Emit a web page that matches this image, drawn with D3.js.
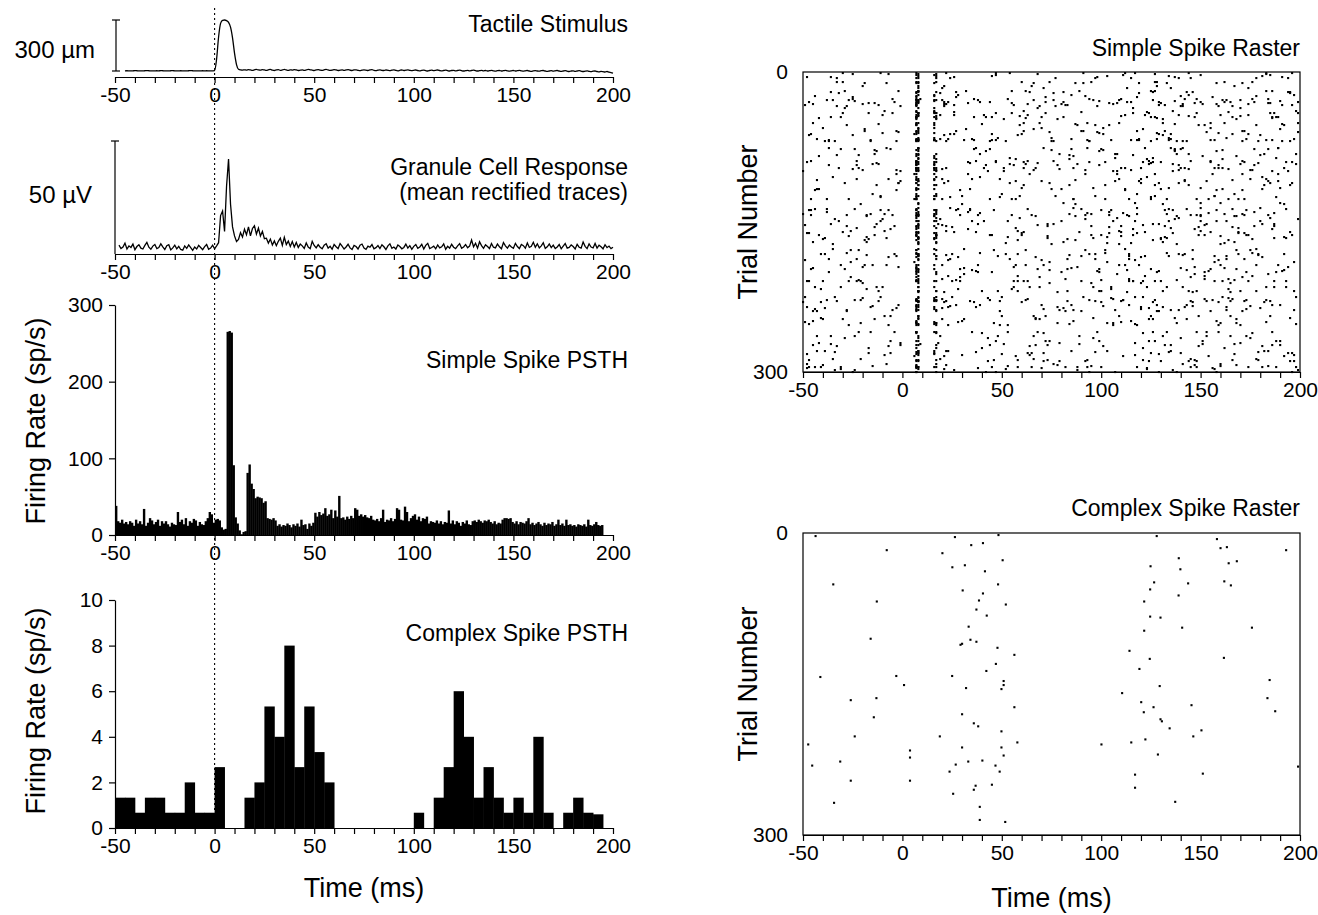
<!DOCTYPE html>
<html>
<head>
<meta charset="utf-8">
<title>Tactile stimulus, granule cell and Purkinje cell responses</title>
<script src="https://cdn.jsdelivr.net/npm/d3@7"></script>
<style>
  body { margin: 0; background: #fff; }
  svg text { font-family: "Liberation Sans", Arial, Helvetica, sans-serif; fill: #000; }
</style>
</head>
<body>
<div id="chart"></div>
<script>
// ---- data ----
var timeTickLabels = [-50, 0, 50, 100, 150, 200];
var simpleRateTicks = [0, 100, 200, 300];
var complexRateTicks = [0, 2, 4, 6, 8, 10];
var rasterTrialTicks = [0, 300];

// tactile stimulus trace, 1 ms samples from -45 ms (um)
var tactileStart = -45;
var tactileUm = [
  1,1.5,1,0.5,1,2,1.5,1,0.5,1,
  1.5,2,1.5,1,0.5,1,1.5,1,2,1.5,
  1,0.5,1,1.5,2,1,0.5,1,1.5,1,
  0.5,1,1.5,2,1.5,1,1,0.5,1,1.5,
  1,1.5,1,0.5,1,2,70,200,280,298,
  300,296,286,258,195,105,38,10,6,5,
  7,5,8,6,4,7,9,6,5,8,
  6,4,7,9,5,3,6,8,4,6,
  9,6,4,7,5,8,6,3,5,7,
  4,6,9,7,5,3,6,8,5,4,
  7,9,6,4,5,8,6,3,5,7,
  4,6,8,5,3,6,7,4,2,5,
  7,5,3,6,8,4,2,5,7,4,
  3,6,4,2,5,7,3,1,4,6,
  3,5,7,4,2,4,6,3,1,4,
  5,2,0,3,5,2,4,6,3,1,
  3,5,2,0,3,4,1,3,5,2,
  0,2,4,1,3,5,2,0,2,4,
  1,3,0,2,4,1,-1,2,3,0,
  2,4,1,-1,1,3,0,2,4,1,
  -1,1,3,0,-2,1,2,0,-1,2,
  3,0,-2,0,2,-1,1,3,0,-2,
  0,2,-1,-3,0,1,-2,0,2,-1,
  -3,-1,1,-2,-4,-1,0,-3,-5,-2,
  -4,-6,-3,-7,-9,-12
];

// granule cell mean rectified trace, 1 ms samples from -48 ms (uV)
var granuleStart = -48;
var granuleUv = [
  3.9,2.4,3.1,4.8,2.2,3.6,2.9,4.4,1.9,3.3,
  4.1,2.6,2.2,3.8,5.1,3.0,2.1,3.5,4.2,2.4,
  2.9,4.5,3.2,2.0,3.7,4.1,1.8,2.7,3.9,2.3,
  3.4,2.0,1.7,3.6,2.5,4.0,2.8,1.6,3.1,2.2,
  3.8,2.9,1.9,3.3,4.2,2.1,2.6,3.9,2.3,3.6,
  5.0,17,19,10,30,42,22,12,8,5.5,
  6.5,9.5,7.5,11,8.5,12,8,11.3,12.5,8.8,
  11.5,8,10,6.8,7,4.8,6.6,4,5.8,3.7,
  5.6,7,3.8,7.4,4.2,5.7,3.3,5.5,3.1,5.1,
  2.9,4.4,3.6,2.5,4.9,3.1,2.4,5.6,3.8,2.7,
  4.1,3.0,2.3,3.9,4.5,2.6,3.4,2.1,4.2,3.2,
  2.4,4.6,3.5,2.2,3.1,4.3,2.7,2.0,3.8,3.3,
  2.2,3.9,4.4,2.6,2.1,3.5,3.0,4.2,2.3,2.8,
  3.7,2.4,4.1,3.2,2.0,3.6,4.5,2.5,3.1,2.2,
  4.0,3.3,2.3,2.9,4.4,2.6,3.7,2.1,3.4,4.2,
  2.5,3.1,4.3,2.2,3.8,4.7,2.4,2.9,3.5,2.3,
  4.0,2.7,3.2,4.5,2.1,3.4,2.6,4.3,3.0,2.4,
  3.6,4.6,2.5,3.1,4.2,2.8,3.5,6.2,3.2,4.8,
  2.6,5.4,3.7,2.5,4.1,3.3,2.4,4.6,3.0,2.7,
  4.4,3.2,2.3,5.1,3.6,2.6,4.0,3.1,2.5,4.7,
  3.3,2.4,4.2,3.7,2.6,4.9,2.9,3.4,5.2,3.0,
  4.5,2.7,3.6,5.0,2.5,3.2,4.4,2.8,3.9,2.4,
  3.1,4.2,2.3,3.5,4.6,2.6,2.9,4.0,3.3,2.2,
  4.3,3.0,2.6,5.3,3.4,2.4,4.5,3.1,2.7,4.7,
  2.6,3.9,3.2,2.3,4.1,2.8,3.5,2.4,3.0
];

// simple spike PSTH, 1 ms bins starting at -50 ms (sp/s)
var simplePsthStart = -50;
var simplePsthBin = 1;
var simplePsthRate = [
  38,18,16,20,15,17,14,18,16,12,
  20,15,18,14,34,12,16,22,19,14,
  17,20,12,18,15,18,14,11,16,14,
  13,30,17,20,14,22,12,18,16,21,
  19,12,17,14,13,18,22,30,27,16,
  20,21,19,10,7,8,265,266,264,91,
  23,15,6,1,4,5,81,92,67,60,
  48,50,49,48,42,44,22,21,20,22,
  19,12,14,11,13,12,15,13,10,14,
  12,15,11,20,13,14,8,15,12,16,
  29,24,30,26,28,35,25,27,33,22,
  32,24,51,22,23,20,24,21,25,22,
  35,33,25,27,24,26,23,22,25,20,
  19,21,18,22,33,17,20,19,22,18,
  21,35,33,20,19,37,30,18,22,25,
  27,20,24,18,22,21,24,15,18,17,
  16,19,15,18,14,17,16,32,15,19,
  14,18,16,12,17,15,19,14,13,18,
  19,17,20,18,16,19,18,20,17,15,
  18,14,16,15,20,22,22,21,22,17,
  15,18,14,17,16,15,18,22,14,16,
  13,15,17,14,12,16,13,15,14,17,
  12,14,20,13,15,12,20,13,14,12,
  13,11,14,13,12,14,11,20,13,12,
  14,17,13,12,13
];

// complex spike PSTH, 5 ms bins starting at -50 ms (sp/s)
var complexPsthStart = -50;
var complexPsthBin = 5;
var complexPsthRate = [
  1.33,1.33,0.67,1.33,1.33,0.67,0.67,2.0,0.67,0.67,
  2.67,0,0,1.33,2.0,5.33,4.0,8.0,2.67,5.33,
  3.33,2.0,0,0,0,0,0,0,0,0,
  0.67,0,1.33,2.67,6.0,4.0,1.33,2.67,1.33,0.67,
  1.33,0.67,4.0,0.67,0,0.67,1.33,0.67,0.6
];

// simple spike raster: spike times (ms) of each recorded sweep
var simpleRasterSweeps = [
[-44,-3,7,29,112,158,171],[-17,8,63,71,140,196],[-38,7,17,94,127,183],[-9,-26,22,58,109,150],[7,45,81,166,188,-31],
[-48,8,16,37,120,131],[-2,7,74,98,153,199],[-35,-21,19,66,145,178],[8,17,52,103,115,162],[-12,7,40,87,137,191],
[-46,6,24,60,129,174],[-29,8,16,83,99,155],[-6,7,33,116,147,186],[-40,-14,20,69,124,168],[7,56,78,139,159,-23],
[-50,8,17,43,106,194],[-19,7,27,91,118,172],[-33,-7,64,101,149,181],[8,16,48,75,134,163],[-43,7,23,85,128,197],
[-25,9,36,110,142,176],[-11,7,17,59,97,157],[-37,8,71,122,135,189],[-4,-47,21,44,113,165],[7,16,88,104,152,192],
[-30,8,31,67,126,143],[-15,7,53,95,160,184],[-42,-1,18,79,117,170],[8,17,39,108,138,198],[-22,7,62,92,146,175],
[-49,-34,25,50,121,161],[-8,8,16,73,130,187],[7,44,86,102,154,169],[-27,6,20,57,114,148],[-39,8,17,96,133,193],
[-13,7,34,68,125,179],[-45,-20,22,80,141,158],[7,16,47,111,150,185],[-3,8,61,90,132,171],[-32,7,19,76,119,195],
[-18,-41,28,55,105,164],[8,17,84,127,144,182],[-48,7,38,70,123,156],[-24,8,16,99,137,190],[-10,7,26,63,112,174],
[-36,9,51,89,151,167],[7,17,42,107,129,196],[-1,-28,21,77,140,159],[-44,8,65,93,118,181],[-16,7,16,35,126,153],
[-31,8,58,82,145,188],[7,23,72,115,162,177],[-47,-7,17,46,100,136],[-21,8,30,87,131,192],[-38,7,16,66,109,170],
[-5,7,53,94,148,184],[8,19,41,122,139,160],[-26,6,74,103,157,197],[-42,-14,17,60,116,173],[7,27,85,128,143,186],
[-12,8,16,49,110,165],[-34,7,37,97,134,179],[-49,8,20,68,121,152],[-20,-2,7,56,88,147,194],[7,17,78,106,138,168],
[-29,8,32,62,125,183],[-8,7,16,91,119,158],[-45,8,44,73,135,190],[-15,7,24,101,146,175],[-37,-23,17,54,114,163],
[8,39,81,129,150,199],[-3,7,16,64,108,171],[-28,8,22,95,132,187],[-46,7,47,76,124,155],[-11,8,17,35,117,180],
[-33,7,69,98,141,166],[6,21,57,111,154,192],[-40,-17,8,16,83,130,176],[-23,7,29,90,127,161],[-6,8,50,72,149,185],
[-48,7,17,104,136,169],[-30,8,26,61,122,195],[7,16,45,93,115,157],[-14,7,79,107,144,182],[-43,-36,19,66,131,173],
[8,17,38,99,152,188],[-19,7,58,87,126,164],[-35,8,16,31,112,178],[-2,7,74,120,139,196],[-27,8,23,53,106,159],
[-50,-9,17,84,133,171],[7,42,70,125,147,186],[-16,8,16,95,118,162],[-38,7,28,63,143,193],[-7,8,20,49,109,175],
[-45,7,17,82,129,155],[-24,-31,36,100,137,184],[8,16,67,114,150,167],[-12,7,54,88,124,198],[-39,8,22,75,141,179],
[-21,7,17,46,103,160],[6,33,92,127,156,189],[-47,8,16,60,118,172],[-5,-28,7,79,135,163],[-33,8,24,97,145,194],
[7,17,40,71,121,176],[-17,8,55,108,130,185],[-42,7,16,86,151,168],[-9,8,30,64,117,197],[-25,7,47,94,138,158],
[-36,-13,18,73,126,181],[8,17,59,110,144,170],[-49,7,26,83,132,191],[-20,8,16,43,105,164],[-4,7,68,98,148,186],
[-31,8,21,52,123,157],[7,17,77,115,139,178],[-44,-24,34,90,134,166],[-13,8,16,61,102,195],[-37,7,45,80,128,173],
[8,23,70,119,153,184],[-27,7,17,38,96,161],[-1,8,57,107,142,189],[-46,7,16,86,125,172],[-18,8,29,65,113,150],
[-34,-10,19,92,137,199],[7,17,51,78,131,168],[-41,8,36,100,146,182],[-22,7,16,67,120,159],[-6,8,44,85,140,177],
[-48,7,25,58,116,193],[-30,8,17,74,127,162],[7,39,93,111,154,187],[-15,8,16,62,136,170],[-39,-3,20,81,124,180],
[8,17,48,99,148,197],[-25,7,27,72,118,156],[-10,8,56,105,133,183],[-43,7,16,87,142,166],[-19,8,32,66,121,190],
[7,17,45,95,152,174],[-35,8,75,109,138,160],[-2,-29,7,21,54,129,185],[-47,8,16,84,117,198],[-23,7,37,63,145,171],
[8,17,90,114,134,163],[-11,7,24,49,125,188],[-40,8,16,70,101,155],[-28,7,59,97,149,178],[7,22,41,112,140,192],
[-45,-18,8,17,81,131,167],[-7,7,28,67,120,181],[-32,8,16,53,106,158],[-16,7,76,94,143,195],[8,19,35,119,135,173],
[-42,7,17,62,128,186],[-24,8,48,89,153,165],[-4,7,16,73,110,177],[-36,-48,26,98,137,191],[8,17,57,84,123,161],
[-14,7,33,104,147,184],[-29,8,16,68,116,170],[7,43,79,130,144,197],[-50,8,21,60,126,159],[-20,7,17,92,139,176],
[-8,8,38,71,112,189],[-38,7,16,55,133,164],[8,24,86,118,150,180],[-26,7,17,46,102,168],[-44,-13,64,96,141,193],
[8,16,30,77,127,157],[-1,7,51,108,136,186],[-33,8,22,83,145,172],[-17,7,17,40,121,162],[7,69,93,131,155,199],
[-41,8,16,58,114,179],[-22,7,27,100,138,167],[-6,8,47,74,124,190],[-47,7,17,88,148,174],[-31,-19,20,62,119,160],
[8,16,36,105,134,183],[-12,7,56,82,129,196],[-39,8,25,94,142,169],[-24,7,17,44,111,156],[7,72,99,127,151,188],
[-3,8,16,66,115,175],[-45,7,31,85,140,162],[-18,8,53,103,132,192],[-35,7,17,39,123,181],[8,21,78,113,146,165],
[-9,7,16,61,136,198],[-28,-43,49,90,128,171],[7,17,34,97,153,185],[-49,8,23,70,117,159],[-15,7,16,57,109,178],
[-36,8,81,126,143,194],[7,26,45,101,135,166],[-21,8,17,63,121,187],[-5,7,38,92,148,172],[-42,8,16,75,130,161],
[-30,-11,22,54,112,183],[8,17,86,107,139,197],[-46,7,29,68,125,168],[-16,8,16,47,118,155],[7,60,96,134,150,190],
[-38,8,17,33,104,177],[-25,7,20,79,144,164],[-2,8,55,89,127,186],[-44,7,16,71,120,173],[-13,8,42,99,137,158],
[7,17,27,64,146,195],[-33,-22,8,84,116,180],[-48,7,16,50,129,167],[-8,8,37,93,141,189],[-27,7,17,73,110,160],
[8,23,58,122,152,176],[-41,7,16,45,100,198],[-19,8,66,87,133,171],[7,17,31,108,147,184],[-35,8,20,76,126,163],
[-4,7,52,97,139,192],[-47,-27,16,61,114,157],[8,17,40,83,131,178],[-14,7,25,104,149,166],[-31,8,16,69,123,187],
[7,47,91,117,144,196],[-23,8,17,57,135,169],[-43,7,34,80,112,181],[-10,8,16,99,128,159],[7,21,63,106,151,174],
[-37,-3,17,44,138,191],[-20,8,74,95,120,165],[-49,7,16,28,110,183],[8,17,51,86,142,157],[-28,7,39,102,133,176],
[-6,8,16,65,125,194],[-40,7,22,78,147,168],[-17,8,17,55,116,185],[7,33,94,130,155,172],[-45,8,16,61,109,162],
[-24,-34,26,88,136,199],[7,17,46,73,121,179],[-12,8,58,100,144,170],[-36,7,16,36,127,189],[8,20,82,114,152,164],
[-1,7,17,67,132,186],[-29,8,43,96,140,175],[-46,7,16,27,105,158],[8,71,92,124,148,195],[-15,7,17,50,118,167],
[-39,8,23,85,135,182],[-21,7,16,62,111,173],[7,37,98,129,154,191],[-48,-8,17,76,141,160],[8,16,54,107,126,188],
[-26,7,29,69,145,171],[-11,8,17,91,117,198],[7,41,80,134,150,163],[-43,8,16,22,103,184],[-33,7,60,95,128,176],
[-3,8,17,48,122,157],[8,35,74,113,143,192],[-18,7,16,87,138,168],[-47,-25,21,58,131,180],[7,17,44,100,149,196],
[-9,8,66,109,125,165],[-37,7,16,31,119,186],[8,24,83,97,146,172],[-22,7,17,53,133,159],[-2,8,39,70,114,190],
[-44,7,16,92,140,178],[7,20,63,106,152,166],[-30,8,17,47,124,187],[-14,7,75,101,137,161],[8,16,28,85,144,197],
[-40,7,56,116,130,174],[-25,-7,8,17,68,127,183],[7,37,89,110,155,169],[-48,8,16,61,121,193],[-16,7,23,78,142,163],
[8,17,45,103,134,181],[-34,7,52,94,125,171],[-5,8,16,72,148,199],[-45,7,30,86,115,158],[7,17,59,108,139,185],
[-20,8,21,65,128,167],[-37,7,16,42,99,177],[8,81,117,150,160,190],[-11,7,17,34,132,173],[-28,-46,8,55,104,145,184],
[7,16,26,90,123,164],[-41,8,67,96,137,195],[-7,7,17,49,118,170],[8,38,76,129,153,187],[-32,7,16,61,110,161],
[-18,8,22,84,141,179],[7,17,47,102,126,196],[-47,8,58,93,147,166],[-23,7,16,35,120,183],[8,20,71,113,135,174]
];

// trial row (0 = top, 300 = bottom) on which each sweep above is plotted
var simpleRasterRow = [
  118,281,228,159,45,235,60,287,171,52,
  62,197,157,247,93,99,59,274,66,67,
  27,124,76,30,53,247,294,271,82,178,
  225,166,127,127,166,91,32,3,59,21,
  217,113,296,29,43,272,300,34,295,260,
  295,30,138,132,28,27,43,190,163,233,
  229,280,153,195,251,19,11,273,234,187,
  30,102,154,89,149,34,284,167,209,244,
  161,160,68,82,264,200,168,177,111,253,
  142,45,142,137,107,239,77,144,92,69,
  251,102,161,238,6,261,31,84,283,300,
  152,44,33,226,260,297,6,137,113,200,
  109,28,109,127,143,147,47,230,96,77,
  209,10,141,92,236,219,25,215,108,57,
  163,172,111,252,89,184,125,56,53,96,
  170,185,149,69,67,46,264,154,5,87,
  31,36,289,230,98,193,127,136,178,215,
  124,99,229,276,51,182,208,269,295,193,
  68,33,182,228,269,98,196,165,105,220,
  39,239,229,188,193,20,62,209,143,117,
  1,238,197,68,116,140,97,19,237,79,
  20,83,282,76,164,204,295,11,202,28,
  182,209,219,155,215,1,156,117,61,32,
  69,211,250,96,181,281,293,41,90,51,
  298,288,219,45,207,273,266,138,289,122,
  279,228,199,292,86,205,225,149,279,10,
  184,198,144,63,163,244,68,187,260,233,
  24,227,41,78,23,209,2,160,90,235,
  4,69,41,249,146,14,93,131,138,143,
  40,246,253,152,96,183,90,288,107,16
];

// complex spike raster: [time ms, trial]
var complexRasterSpikes = [
  [-43.7,3],[-7.9,17],[-34.8,51],[-12.9,68],[-16,105],[-41.3,143],[-3.1,142],[0.8,151],[-26,166],[-13.1,164],
  [-14.4,183],[-24,202],[-47.4,210],[-45.4,231],[-31.3,227],[-26,246],[-34.4,268],[3.8,216],[3.8,223],[3.8,246],
  [20.1,20],[26.4,4],[25.1,34],[34.6,12],[40.5,10],[48.3,2],[31.4,32],[41.5,38],[50.4,27],[30.3,57],
  [48.1,51],[40.5,60],[38.5,67],[37.2,76],[52,71],[42.4,82],[33.3,93],[34.2,106],[29.2,111],[30,110],
  [37.2,108],[47.8,114],[56.3,121],[47,130],[42.2,137],[25,142],[50.9,147],[50.9,151],[49.8,155],[32,154],
  [56.3,173],[30,180],[35.9,189],[38.1,192],[49.8,197],[18.8,202],[57.8,208],[30,213],[49.8,213],[50.9,221],
  [33.1,227],[40.2,226],[26.8,230],[46.8,231],[23.7,237],[48.9,237],[36.8,251],[35.9,255],[45,250],[25.5,259],
  [38.9,272],[38.9,285],[51.7,287],
  [127.9,3],[158.2,6],[163.2,14],[160,15],[193,17],[139,25],[164.1,30],[168.2,28],[124.8,33],[139.8,36],
  [126.6,49],[124.6,56],[143.7,50],[161.9,48],[165.2,52],[138.9,62],[121.6,68],[124.6,83],[129.8,84],[140.7,94],
  [175.8,94],[121.6,97],[114.2,117],[124.4,125],[161.7,124],[119.2,135],[184.7,146],[129.4,152],[110.5,159],[120.1,168],
  [121.4,178],[126.3,173],[145.4,171],[183.6,164],[187.5,177],[129.8,185],[130.5,187],[134.4,194],[150.4,196],[146.3,202],
  [122.2,205],[115.1,208],[100.1,210],[128.5,220],[151.1,239],[117,240],[117,253],[137.2,267],[199,232]
];

// ---- drawing ----
var FONT = '"Liberation Sans", Arial, Helvetica, sans-serif';
var svg = d3.select("#chart").append("svg").attr("width", 1318).attr("height", 915);

var xL = d3.scaleLinear().domain([-50, 200]).range([115, 613]);
var xR = d3.scaleLinear().domain([-50, 200]).range([803, 1300]);
var minorTicks = d3.range(-50, 201, 10);

function styleAxis(g) {
  g.attr("font-family", FONT).attr("font-size", 21);
  g.selectAll("path, line").attr("stroke", "#000").attr("stroke-width", 1.2);
  g.selectAll("text").attr("fill", "#000");
}

function timeAxis(scale, y) {
  var axis = d3.axisBottom(scale)
    .tickValues(minorTicks)
    .tickSize(6).tickSizeOuter(0).tickPadding(4)
    .tickFormat(function (d) { return timeTickLabels.indexOf(d) >= 0 ? String(d) : ""; });
  var g = svg.append("g").attr("transform", "translate(0," + y + ")").call(axis);
  styleAxis(g);
  return g;
}

function rateAxis(scale, ticks) {
  var axis = d3.axisLeft(scale).tickValues(ticks).tickSize(6).tickSizeOuter(0).tickPadding(6);
  var g = svg.append("g").attr("transform", "translate(" + xL(-50) + ",0)").call(axis);
  styleAxis(g);
  return g;
}

function label(x, y, txt, size, anchor) {
  return svg.append("text").attr("x", x).attr("y", y)
    .attr("font-size", size).attr("text-anchor", anchor || "end").text(txt);
}

function vlabel(x, y, txt, size) {
  return svg.append("text").attr("x", 0).attr("y", 0).attr("dy", "0.35em")
    .attr("font-size", size).attr("text-anchor", "middle")
    .attr("transform", "translate(" + x + "," + y + ") rotate(-90)").text(txt);
}

function scaleBar(x, y0, y1, capBottom) {
  svg.append("line").attr("x1", x).attr("x2", x).attr("y1", y0).attr("y2", y1)
    .attr("stroke", "#000").attr("stroke-width", 1.2);
  svg.append("line").attr("x1", x - 4).attr("x2", x + 4).attr("y1", y1).attr("y2", y1)
    .attr("stroke", "#000").attr("stroke-width", 1.2);
  if (capBottom) {
    svg.append("line").attr("x1", x - 4).attr("x2", x + 4).attr("y1", y0).attr("y2", y0)
      .attr("stroke", "#000").attr("stroke-width", 1.2);
  }
}

// stimulus onset marker through the left column
svg.append("line")
  .attr("x1", xL(0)).attr("x2", xL(0)).attr("y1", 8).attr("y2", 828)
  .attr("stroke", "#000").attr("stroke-width", 1.1).attr("stroke-dasharray", "2,3");

// Tactile stimulus
var yT = d3.scaleLinear().domain([0, 300]).range([71, 20]);
timeAxis(xL, 77);
scaleBar(xL(-50) + 1, yT(0), yT(300), true);
svg.append("path")
  .datum(tactileUm)
  .attr("fill", "none").attr("stroke", "#000").attr("stroke-width", 1.3)
  .attr("d", d3.line().curve(d3.curveMonotoneX)
    .x(function (d, i) { return xL(tactileStart + i); })
    .y(function (d) { return yT(d); }));
label(95, 58, "300 \u00b5m", 24);
label(628, 32, "Tactile Stimulus", 23);

// Granule cell response
var yG = d3.scaleLinear().domain([0, 50]).range([254, 141]);
timeAxis(xL, 254);
scaleBar(xL(-50), yG(0), yG(50), false);
svg.append("path")
  .datum(granuleUv)
  .attr("fill", "none").attr("stroke", "#000").attr("stroke-width", 1.3)
  .attr("d", d3.line()
    .x(function (d, i) { return xL(granuleStart + i); })
    .y(function (d) { return yG(d); }));
label(92, 203, "50 \u00b5V", 24);
label(628, 175, "Granule Cell Response", 23);
label(628, 200, "(mean rectified traces)", 23);

// Simple spike PSTH
var yS = d3.scaleLinear().domain([0, 300]).range([535, 305]);
svg.append("g").selectAll("rect")
  .data(simplePsthRate)
  .enter().append("rect")
  .attr("x", function (d, i) { return xL(simplePsthStart + i * simplePsthBin); })
  .attr("width", function (d, i) {
    var t = simplePsthStart + i * simplePsthBin;
    return xL(t + simplePsthBin) - xL(t) + 0.4;
  })
  .attr("y", function (d) { return yS(d); })
  .attr("height", function (d) { return yS(0) - yS(d); })
  .attr("fill", "#000");
timeAxis(xL, 535);
rateAxis(yS, simpleRateTicks);
label(628, 368, "Simple Spike PSTH", 23);
vlabel(36, 421, "Firing Rate (sp/s)", 27);

// Complex spike PSTH
var yC = d3.scaleLinear().domain([0, 10]).range([828, 600]);
svg.append("g").selectAll("rect")
  .data(complexPsthRate)
  .enter().append("rect")
  .attr("x", function (d, i) { return xL(complexPsthStart + i * complexPsthBin); })
  .attr("width", function (d, i) {
    var t = complexPsthStart + i * complexPsthBin;
    return xL(t + complexPsthBin) - xL(t) + 0.4;
  })
  .attr("y", function (d) { return yC(d); })
  .attr("height", function (d) { return yC(0) - yC(d); })
  .attr("fill", "#000");
timeAxis(xL, 828);
rateAxis(yC, complexRateTicks);
label(628, 641, "Complex Spike PSTH", 23);
vlabel(36, 711, "Firing Rate (sp/s)", 27);
label((xL(-50) + xL(200)) / 2, 897, "Time (ms)", 27, "middle");

// Rasters
function raster(y0, y1, dots, title, titleY) {
  var yR = d3.scaleLinear().domain([0, 300]).range([y0, y1]);
  svg.append("rect")
    .attr("x", xR(-50)).attr("y", yR(0))
    .attr("width", xR(200) - xR(-50)).attr("height", yR(300) - yR(0))
    .attr("fill", "none").attr("stroke", "#000").attr("stroke-width", 1.2);
  svg.append("g").selectAll("rect")
    .data(dots)
    .enter().append("rect")
    .attr("x", function (d) { return xR(d[0]) - 1; })
    .attr("y", function (d) { return yR(d[1]) - 1; })
    .attr("width", 2.1).attr("height", 2.1)
    .attr("fill", "#000");
  timeAxis(xR, y1);
  var g = svg.append("g").attr("transform", "translate(" + xR(-50) + ",0)")
    .call(d3.axisLeft(yR).tickValues(rasterTrialTicks).tickSize(0).tickPadding(15));
  styleAxis(g);
  g.select(".domain").remove();
  label(1300, titleY, title, 23);
  vlabel(748, (y0 + y1) / 2, "Trial Number", 27);
}

var simpleDots = [];
simpleRasterSweeps.forEach(function (times, i) {
  times.forEach(function (t) { simpleDots.push([t, simpleRasterRow[i]]); });
});

raster(72, 372, simpleDots, "Simple Spike Raster", 56);
raster(533, 835, complexRasterSpikes, "Complex Spike Raster", 516);
label((xR(-50) + xR(200)) / 2, 907, "Time (ms)", 27, "middle");
</script>
</body>
</html>
